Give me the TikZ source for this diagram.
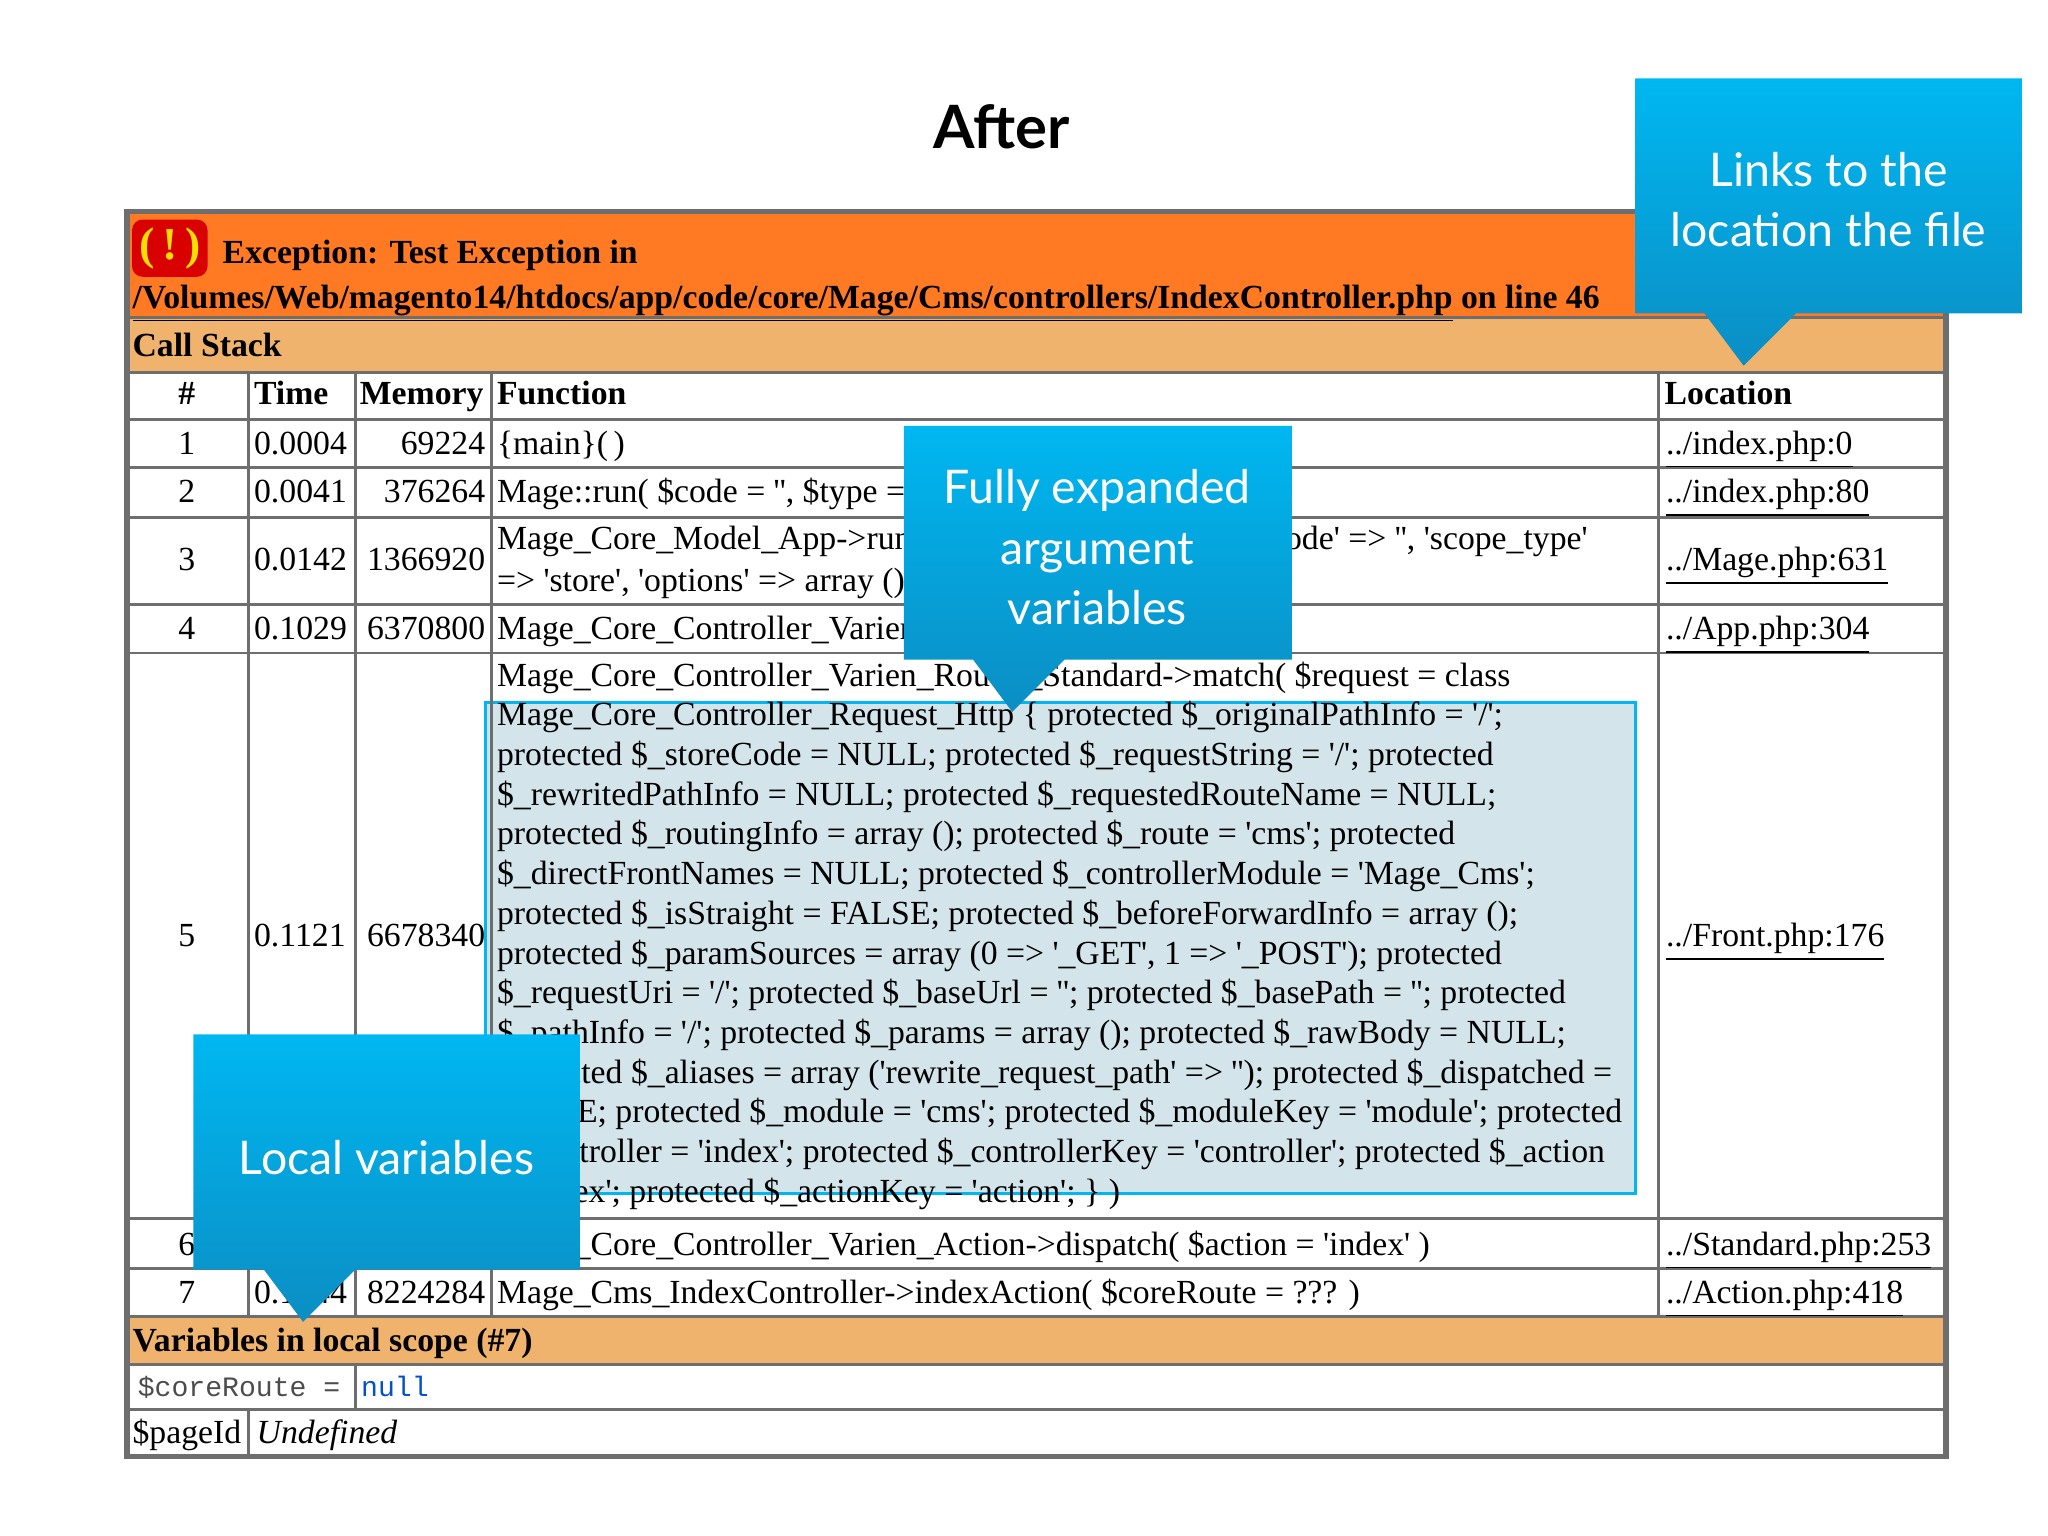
\documentclass[tikz,border=0pt]{standalone}
\usepackage{fontspec}
\setmainfont{Liberation Serif}[Ligatures=TeXOff]
\setmonofont{Liberation Mono}
\newfontfamily\callfont{Lato}
\usepackage{xcolor}
\definecolor{xorange}{HTML}{FF7A22}
\definecolor{xlight}{HTML}{EFB36E}
\definecolor{xgrid}{HTML}{6E6E6E}
\definecolor{xcyan}{HTML}{00B7F1}
\definecolor{xcyandk}{HTML}{0B8EC4}
\definecolor{xhl}{HTML}{D3E4EA}
\tikzstyle{cell} = [anchor=base west,inner sep=0pt,font=\fontsize{9.6}{11.3}\selectfont]
\tikzstyle{num} = [anchor=base east,inner sep=0pt,font=\fontsize{9.6}{11.3}\selectfont]
\tikzstyle{mid} = [anchor=base,inner sep=0pt,font=\fontsize{9.6}{11.3}\selectfont]
\tikzstyle{head} = [cell,font=\fontsize{9.6}{11.3}\selectfont\bfseries]
\tikzstyle{link} = [cell]
\tikzstyle{callout} = [top color=xcyan,bottom color=xcyandk,draw=none]
\tikzstyle{calltext} = [text=white,align=center,inner sep=0pt,font=\callfont\fontsize{13.2}{17.2}\selectfont]
\newcommand{\lnk}[1]{\underline{#1}}
\begin{document}
\begin{tikzpicture}[x=0.0130612cm,y=-0.0130612cm]
    \useasboundingbox (0,0) rectangle (1568,1176);
    \fill[white] (0,0) rectangle (1568,1176);

    \node (title) at (767,97) [font=\callfont\fontsize{17}{20}\selectfont\bfseries] {After};

    % table background
    \fill[xorange] (97,162) rectangle (1490,243);
    \fill[xlight] (97,243) rectangle (1490,285);
    \fill[xlight] (97,1008) rectangle (1490,1045);
    \fill[xhl] (372,538) rectangle (1252,914);
    \draw[xcyan,thick] (372,538) rectangle (1252,914);

    % grid
    \draw[xgrid,line width=0.8pt] (97,243) -- (1490,243);
    \foreach \y in {285,321,358,396,463,500,933,971,1008,1045,1079}
        \draw[xgrid,line width=0.8pt] (97,\y) -- (1490,\y);
    \foreach \x in {190,272,376,1270}
        \draw[xgrid,line width=0.8pt] (\x,285) -- (\x,1008);
    \draw[xgrid,line width=0.8pt] (272,1045) -- (272,1079);
    \draw[xgrid,line width=0.8pt] (190,1079) -- (190,1115);
    \draw[xgrid,line width=1.6pt] (97,162) rectangle (1490,1115);

    % exception header
    \node (icon) at (130,190) [fill=red!85!black,rounded corners=3pt,minimum width=58pt*0.37,minimum height=44pt*0.37,inner sep=0pt,text=yellow!80!orange,font=\fontsize{13}{14}\selectfont\bfseries] {(\,!\,)};
    \node (exc) at (170,202) [head] {Exception: Test Exception in};
    \node (path) at (101,236) [head] {\lnk{/Volumes/Web/magento14/htdocs/app/code/core/Mage/Cms/controllers/IndexController.php} on line 46};
    \node (stack) at (101,273) [head] {Call Stack};

    % column heads
    \node (hnum) at (143,310) [mid,font=\fontsize{9.6}{11.3}\selectfont\bfseries] {\#};
    \node (htime) at (194,310) [head] {Time};
    \node (hmem) at (275,310) [head] {Memory};
    \node (hfun) at (380,310) [head] {Function};
    \node (hloc) at (1274,310) [head] {Location};

    % rows
    \node (n1) at (143,348) [mid] {1};
    \node (t1) at (194,348) [cell] {0.0004};
    \node (m1) at (372,348) [num] {69224};
    \node (f1) at (380,348) [cell] {\{main\}(\,)};
    \node (l1) at (1275,348) [link] {\lnk{../index.php:0}};

    \node (n2) at (143,385) [mid] {2};
    \node (t2) at (194,385) [cell] {0.0041};
    \node (m2) at (372,385) [num] {376264};
    \node (f2) at (380,385) [cell] {Mage::run( \$code = '', \$type = 'store', \$options = ??? )};
    \node (l2) at (1275,385) [link] {\lnk{../index.php:80}};

    \node (n3) at (143,437) [mid] {3};
    \node (t3) at (194,437) [cell] {0.0142};
    \node (m3) at (372,437) [num] {1366920};
    \node (f3) at (380,421) [cell] {Mage\_Core\_Model\_App->run( \$params = array ('scope\_code' => '', 'scope\_type'};
    \node (f3b) at (380,453) [cell] {=> 'store', 'options' => array () ) )};
    \node (l3) at (1275,437) [link] {\lnk{../Mage.php:631}};

    \node (n4) at (143,490) [mid] {4};
    \node (t4) at (194,490) [cell] {0.1029};
    \node (m4) at (372,490) [num] {6370800};
    \node (f4) at (380,490) [cell] {Mage\_Core\_Controller\_Varien\_Front->dispatch(\,)};
    \node (l4) at (1275,490) [link] {\lnk{../App.php:304}};

    \node (n5) at (143,725) [mid] {5};
    \node (t5) at (194,725) [cell] {0.1121};
    \node (m5) at (372,725) [num] {6678340};
    \node (f5) at (380,506) [anchor=north west,inner sep=0pt,align=left,font=\fontsize{9.6}{11.3}\selectfont] {%
Mage\_Core\_Controller\_Varien\_Router\_Standard->match( \$request = class\\
Mage\_Core\_Controller\_Request\_Http \{ protected \$\_originalPathInfo = '/';\\
protected \$\_storeCode = NULL; protected \$\_requestString = '/'; protected\\
\$\_rewritedPathInfo = NULL; protected \$\_requestedRouteName = NULL;\\
protected \$\_routingInfo = array (); protected \$\_route = 'cms'; protected\\
\$\_directFrontNames = NULL; protected \$\_controllerModule = 'Mage\_Cms';\\
protected \$\_isStraight = FALSE; protected \$\_beforeForwardInfo = array ();\\
protected \$\_paramSources = array (0 => '\_GET', 1 => '\_POST'); protected\\
\$\_requestUri = '/'; protected \$\_baseUrl = ''; protected \$\_basePath = ''; protected\\
\$\_pathInfo = '/'; protected \$\_params = array (); protected \$\_rawBody = NULL;\\
protected \$\_aliases = array ('rewrite\_request\_path' => ''); protected \$\_dispatched =\\
FALSE; protected \$\_module = 'cms'; protected \$\_moduleKey = 'module'; protected\\
\$\_controller = 'index'; protected \$\_controllerKey = 'controller'; protected \$\_action\\
= 'index'; protected \$\_actionKey = 'action'; \} )};
    \node (l5) at (1275,725) [link] {\lnk{../Front.php:176}};

    \node (n6) at (143,961) [mid] {6};
    \node (t6) at (194,961) [cell] {0.1244};
    \node (m6) at (372,961) [num] {8224284};
    \node (f6) at (380,961) [cell] {Mage\_Core\_Controller\_Varien\_Action->dispatch( \$action = 'index' )};
    \node (l6) at (1275,961) [link] {\lnk{../Standard.php:253}};

    \node (n7) at (143,998) [mid] {7};
    \node (t7) at (194,998) [cell] {0.1244};
    \node (m7) at (372,998) [num] {8224284};
    \node (f7) at (380,998) [cell] {Mage\_Cms\_IndexController->indexAction( \$coreRoute = ??? )};
    \node (l7) at (1275,998) [link] {\lnk{../Action.php:418}};

    % local scope
    \node (vars) at (101,1035) [head] {Variables in local scope (\#7)};
    \node (v1) at (105,1069) [cell,font=\ttfamily\fontsize{8}{10}\selectfont,text=black!70] {\$coreRoute =};
    \node (v1v) at (276,1069) [cell,font=\ttfamily\fontsize{8}{10}\selectfont,text=blue!60!cyan!80!black] {null};
    \node (v2) at (101,1105) [cell] {\$pageId};
    \node (v2v) at (196,1105) [cell,font=\fontsize{9.6}{11.3}\selectfont\itshape] {Undefined};

    % callouts
    \path[callout] (1252,60) -- (1548,60) -- (1548,240) -- (1375,240) -- (1335,280) -- (1305,240) -- (1252,240) -- cycle;
    \node (c1) at (1400,153) [calltext] {Links to the\\location the file};
    \path[callout] (692,326) -- (989,326) -- (989,505) -- (815,505) -- (775,545) -- (745,505) -- (692,505) -- cycle;
    \node (c2) at (840,419) [calltext] {Fully expanded\\argument\\variables};
    \path[callout] (148,792) -- (444,792) -- (444,972) -- (272,972) -- (232,1012) -- (202,972) -- (148,972) -- cycle;
    \node (c3) at (296,886) [calltext] {Local variables};
\end{tikzpicture}
\end{document}
